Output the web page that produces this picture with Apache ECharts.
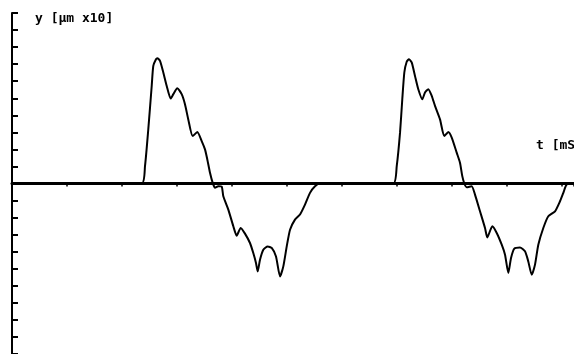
<!DOCTYPE html>
<html>
<head>
<meta charset="utf-8">
<script src="https://cdn.jsdelivr.net/npm/echarts@6/dist/echarts.min.js"></script>
<style>html,body{margin:0;padding:0;background:#fff;}#chart{width:574px;height:354px;}</style>
</head>
<body>
<div id="chart"></div>
<script>
// time in tick units [mS], displacement in [µm x10]
var timeValues = [
  0, 2.358, 2.418, 2.478, 2.540, 2.569, 2.618, 2.642, 2.691, 2.751, 2.813, 2.885, 2.933, 3.005, 3.085, 3.145,
  3.205, 3.285, 3.369, 3.449, 3.509, 3.551, 3.600, 3.649, 3.691, 3.751, 3.813, 3.842, 3.933, 4.024, 4.085,
  4.158, 4.236, 4.327, 4.387, 4.436, 4.467, 4.509, 4.569, 4.649, 4.722, 4.800, 4.873, 4.933, 4.995, 5.055,
  5.145, 5.236, 5.327, 5.418, 5.509, 5.600,
  6.933, 6.995, 7.055, 7.096, 7.133, 7.176, 7.218, 7.267, 7.327, 7.387, 7.460, 7.509, 7.569, 7.631, 7.691,
  7.782, 7.860, 7.933, 7.995, 8.085, 8.145, 8.187, 8.224, 8.267, 8.358, 8.418, 8.509, 8.600, 8.642, 8.733,
  8.813, 8.904, 8.964, 9.024, 9.073, 9.133, 9.236, 9.327, 9.387, 9.449, 9.509, 9.569, 9.660, 9.751, 9.873,
  9.964, 10.024, 10.085, 10.218
];
var yValues = [
  0, 0, 1.02, 3.18, 5.72, 6.90, 7.29, 7.35, 7.19, 6.51, 5.72, 4.98, 5.24, 5.59, 5.24, 4.65,
  3.76, 2.78, 3.02, 2.49, 2.0, 1.41, 0.63, 0.04, -0.25, -0.16, -0.18, -0.75, -1.53, -2.51, -3.06,
  -2.61, -2.94, -3.49, -4.08, -4.66, -5.16, -4.47, -3.88, -3.69, -3.78, -4.28, -5.45, -4.86, -3.69, -2.71,
  -2.12, -1.82, -1.24, -0.55, -0.16, 0,
  0, 1.02, 2.98, 4.94, 6.51, 7.14, 7.29, 7.10, 6.31, 5.53, 4.94, 5.34, 5.53, 5.14, 4.55,
  3.76, 2.78, 3.02, 2.69, 1.81, 1.22, 0.43, 0, -0.22, -0.16, -0.65, -1.63, -2.61, -3.16, -2.51,
  -2.90, -3.59, -4.18, -5.25, -4.37, -3.82, -3.75, -3.98, -4.57, -5.35, -4.76, -3.59, -2.61, -1.92, -1.63,
  -1.04, -0.55, -0.06, 0
];
var yAxisLabel = 'y [µm x10]';
var xAxisLabel = 't [mS]';

var data = timeValues.map(function (t, i) { return [t, yValues[i]]; });

var chart = echarts.init(document.getElementById('chart'), null, {renderer: 'canvas'});
chart.setOption({
  backgroundColor: '#fff',
  animation: false,
  grid: {left: 12, right: 0, top: 13, bottom: 0, containLabel: false},
  xAxis: {
    type: 'value', min: 0, max: 10.218, interval: 1,
    axisLine: {onZero: true, lineStyle: {color: '#000', width: 3}},
    axisTick: {show: true, inside: false, length: 3, lineStyle: {color: '#000', width: 1.5}},
    axisLabel: {show: false},
    splitLine: {show: false}
  },
  yAxis: {
    type: 'value', min: -10, max: 10, interval: 1,
    axisLine: {show: true, onZero: false, lineStyle: {color: '#000', width: 2}},
    axisTick: {show: true, inside: true, length: 6, lineStyle: {color: '#000', width: 2}},
    axisLabel: {show: false},
    splitLine: {show: false}
  },
  graphic: [
    {type: 'text', left: 35, top: 12, style: {text: yAxisLabel, font: 'bold 13px "DejaVu Sans Mono"', fill: '#000'}},
    {type: 'text', left: 536, top: 139, style: {text: xAxisLabel, font: 'bold 13px "DejaVu Sans Mono"', fill: '#000'}}
  ],
  series: [{
    type: 'line', data: data, symbol: 'none', smooth: 0.2,
    lineStyle: {color: '#000', width: 2}
  }]
});
</script>
</body>
</html>
